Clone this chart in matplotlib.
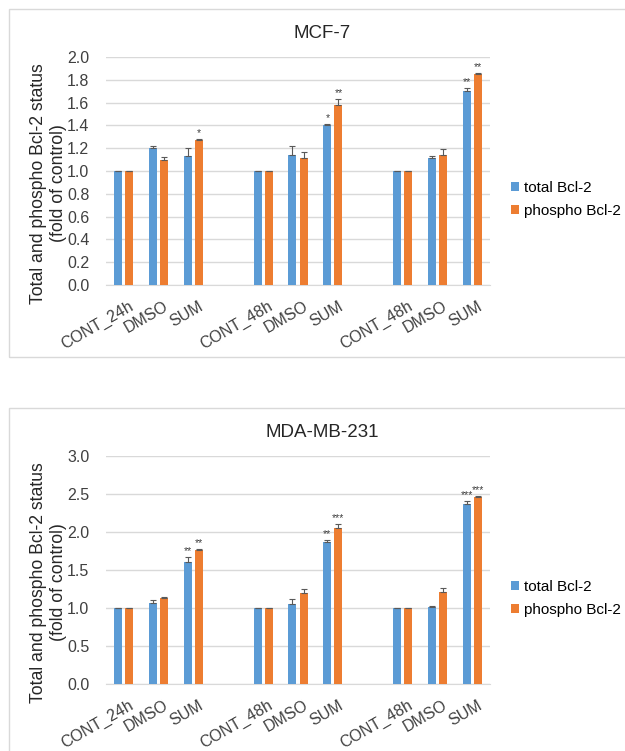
import numpy as np
import matplotlib
matplotlib.use("Agg")
import matplotlib.pyplot as plt
import matplotlib.transforms as mtransforms
from matplotlib.patches import Rectangle

plt.rcParams['font.family'] = ['Liberation Sans', 'DejaVu Sans']

# categories (blank slots separate the three time groups)
labels = ['CONT_24h', 'DMSO', 'SUM', '', 'CONT_48h', 'DMSO', 'SUM', '', 'CONT_48h', 'DMSO', 'SUM']
series_names = ['total Bcl-2', 'phospho Bcl-2']

# MCF-7
mcf_total = [1.0, 1.20, 1.13, None, 1.0, 1.14, 1.40, None, 1.0, 1.11, 1.70]
mcf_total_err = [0, 0.02, 0.07, None, 0, 0.08, 0.01, None, 0, 0.02, 0.03]
mcf_phos = [1.0, 1.10, 1.27, None, 1.0, 1.11, 1.58, None, 1.0, 1.14, 1.85]
mcf_phos_err = [0, 0.02, 0.01, None, 0, 0.06, 0.05, None, 0, 0.05, 0.01]
mcf_total_sig = ['', '', '', '', '', '', '*', '', '', '', '**']
mcf_phos_sig = ['', '', '*', '', '', '', '**', '', '', '', '**']

# MDA-MB-231
mda_total = [1.0, 1.07, 1.60, None, 1.0, 1.05, 1.87, None, 1.0, 1.01, 2.37]
mda_total_err = [0, 0.03, 0.07, None, 0, 0.07, 0.03, None, 0, 0.02, 0.04]
mda_phos = [1.0, 1.13, 1.76, None, 1.0, 1.20, 2.05, None, 1.0, 1.21, 2.46]
mda_phos_err = [0, 0.02, 0.01, None, 0, 0.05, 0.06, None, 0, 0.05, 0.02]
mda_total_sig = ['', '', '**', '', '', '', '**', '', '', '', '***']
mda_phos_sig = ['', '', '**', '', '', '', '***', '', '', '', '***']

BLUE = '#5B9BD5'
ORANGE = '#ED7D31'
GRID = '#D9D9D9'
TXT = '#404040'


def draw_panel(fig, ax, title, total, total_err, phos, phos_err, t_sig, p_sig, ymax, step):
    x = np.arange(len(labels))
    idx = [i for i, v in enumerate(total) if v is not None]
    xi = x[idx]
    t = [total[i] for i in idx]
    te = [total_err[i] for i in idx]
    p = [phos[i] for i in idx]
    pe = [phos_err[i] for i in idx]
    w = 0.23
    off = 0.158
    ekw = dict(ecolor='#595959', elinewidth=0.8, capthick=0.8)
    ax.bar(xi - off, t, w, color=BLUE, label=series_names[0], zorder=3)
    ax.bar(xi + off, p, w, color=ORANGE, label=series_names[1], zorder=3)
    ax.errorbar(xi - off, t, yerr=[np.zeros(len(te)), te], fmt='none', capsize=2.5, zorder=4, **ekw)
    ax.errorbar(xi + off, p, yerr=[np.zeros(len(pe)), pe], fmt='none', capsize=2.5, zorder=4, **ekw)
    for j, i in enumerate(idx):
        if t_sig[i]:
            ax.text(x[i] - off, t[j] + te[j] + ymax * 0.004, t_sig[i], ha='center', va='bottom',
                    fontsize=7.5, color='#404040')
        if p_sig[i]:
            ax.text(x[i] + off, p[j] + pe[j] + ymax * 0.004, p_sig[i], ha='center', va='bottom',
                    fontsize=7.5, color='#404040')

    ax.set_xlim(-0.5, len(labels) - 0.5)
    ax.set_ylim(0, ymax)
    ticks = np.arange(0, ymax + step / 2, step)
    ax.set_yticks(ticks)
    ax.set_yticklabels(['%.1f' % v for v in ticks])
    ax.yaxis.grid(True, color=GRID, linewidth=1, zorder=0)
    ax.set_axisbelow(True)
    for s in ['top', 'right', 'left']:
        ax.spines[s].set_visible(False)
    ax.spines['bottom'].set_color(GRID)
    ax.tick_params(axis='both', length=0, colors=TXT, labelsize=11.5)
    ax.tick_params(axis='y', pad=12)
    ax.tick_params(axis='x', pad=10)
    ax.set_xticks(x)
    ax.set_xticklabels(labels, rotation=30, ha='right', rotation_mode='anchor')
    shift = mtransforms.ScaledTranslation(5 / 100, 0, fig.dpi_scale_trans)
    for lab in ax.get_xticklabels():
        lab.set_transform(lab.get_transform() + shift)
    ax.set_title(title, fontsize=13.5, color='#262626', pad=14, x=0.5625)
    ax.set_ylabel('Total and phospho Bcl-2 status\n(fold of control)', fontsize=12.7,
                  color='#262626')
    ax.yaxis.set_label_coords(-0.102, 0.445)
    ax.legend(loc='center left', bbox_to_anchor=(1.0547, 0.375), frameon=False,
              handlelength=0.52, handleheight=0.52, handletextpad=0.3, fontsize=11,
              labelspacing=0.55, borderaxespad=0, borderpad=0)


fig = plt.figure(figsize=(6.25, 7.51), dpi=100)

fig.patches.append(Rectangle((9 / 625, 1 - 357 / 751), 1.0, 348 / 751, transform=fig.transFigure,
                             facecolor='none', edgecolor=GRID, linewidth=1))
fig.patches.append(Rectangle((9 / 625, -0.1), 1.0, 0.1 + 1 - 408 / 751, transform=fig.transFigure,
                             facecolor='none', edgecolor=GRID, linewidth=1))

ax1 = fig.add_axes([106 / 625, 1 - 285 / 751, 384 / 625, 228 / 751])
ax2 = fig.add_axes([106 / 625, 1 - 684 / 751, 384 / 625, 228 / 751])

draw_panel(fig, ax1, 'MCF-7', mcf_total, mcf_total_err, mcf_phos, mcf_phos_err,
           mcf_total_sig, mcf_phos_sig, 2.0, 0.2)
draw_panel(fig, ax2, 'MDA-MB-231', mda_total, mda_total_err, mda_phos, mda_phos_err,
           mda_total_sig, mda_phos_sig, 3.0, 0.5)

fig.savefig('out.png', dpi=100)
